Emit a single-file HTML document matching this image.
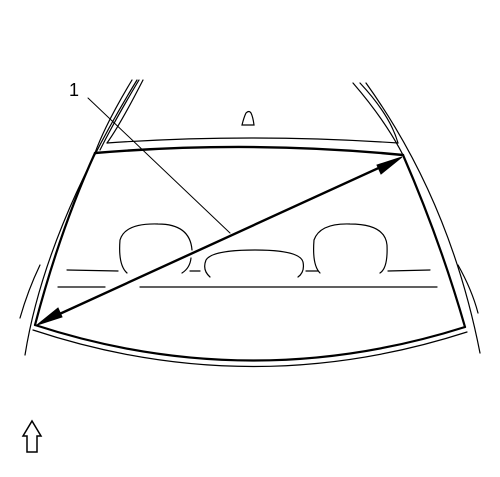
<!DOCTYPE html>
<html><head><meta charset="utf-8"><style>body{margin:0;background:#fff}svg{display:block}</style></head>
<body>
<svg width="500" height="477" viewBox="0 0 500 477" fill="none" stroke="#000" stroke-linecap="round">
<g stroke-width="1.2">
<path d="M132,80 Q105,125 95,153"/>
<path d="M139,80 Q115,120 100,150"/>
<path d="M143,80 Q120,125 107,143"/>
<path d="M137,80 Q45,230 25,355"/>
<path d="M40,265 Q28,290 20,318"/>
</g>
<g stroke-width="1.2">
<path d="M353,83 Q385,120 403,155"/>
<path d="M360,83 Q390,115 398,143"/>
<path d="M366,83 Q450,200 480,353"/>
<path d="M458,265 Q472,290 478,313"/>
</g>
<g>
<path d="M107,143 Q250,133 398,143" stroke-width="1.2"/>
<path d="M95,153 Q250,140 403,155" stroke-width="2.4"/>
<path d="M95,153 Q60,230 35,325" stroke-width="2.2"/>
<path d="M403,155 Q440,240 465,327" stroke-width="2.2"/>
<path d="M35,325 Q250,395 465,327" stroke-width="2.2"/>
<path d="M33,330 Q250,402 467,332" stroke-width="1.2"/>
</g>
<g stroke-width="1.2">
<path d="M127,273 Q118,265 120,240 Q125,223 158,224 Q190,224 192,250"/>
<path d="M182,273 Q190,268 191,258"/>
<path d="M210,277 Q202,270 206,260 Q212,250 255,250 Q300,250 303,262 Q305,272 298,277"/>
<path d="M320,273 Q312,265 314,240 Q320,223 350,224 Q385,224 387,245 Q388,268 380,273"/>
<path d="M67,270 L118,271 M190,271 L200,271 M306,271 L318,271 M388,271 L430,270"/>
<path d="M58,287 L105,287 M140,287 L437,287"/>
</g>
<path d="M242,125 Q244,117 246,113 Q249,110 251,113 Q253,117 254,125 Z" stroke-width="1.2"/>
<g>
<line x1="42" y1="322" x2="396" y2="160" stroke-width="2.4"/>
<polygon points="37,325 58,308 62,317" fill="#000"/>
<polygon points="402,157 381,174 377,165" fill="#000"/>
</g>
<line x1="88" y1="98" x2="230" y2="233" stroke-width="1"/>
<text x="69" y="96" font-family="Liberation Sans, sans-serif" font-size="18" fill="#000" stroke="none">1</text>
<path d="M27,452 L27,436 L23,436 L32,421 L41,436 L37,436 L37,452 Z" stroke-width="1.5" fill="#fff"/>
</svg>
</body></html>
